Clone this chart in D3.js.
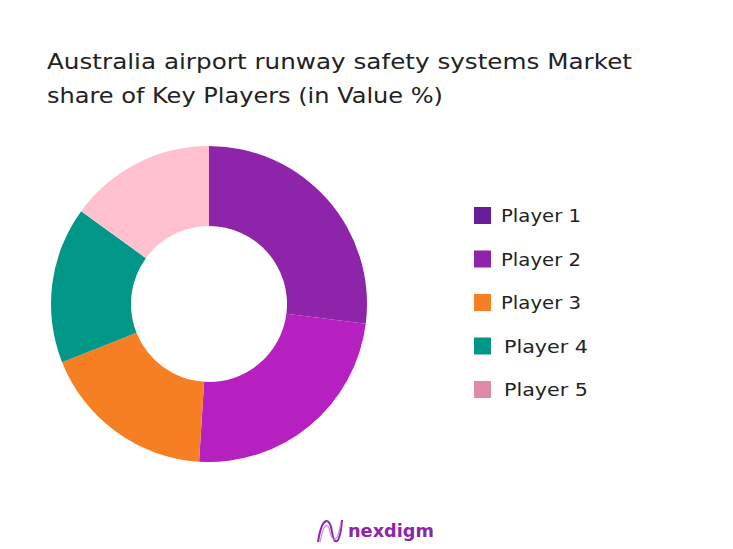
<!DOCTYPE html>
<html><head><meta charset="utf-8">
<script src="https://cdn.jsdelivr.net/npm/d3@7"></script>
<style>body{margin:0;background:#fff;font-family:"DejaVu Sans",sans-serif}</style>
</head><body><div id="chart"></div>
<script>
var players = ["Player 1", "Player 2", "Player 3", "Player 4", "Player 5"];
var shares = [27, 24, 18, 16, 15];
var sliceColors = ["#8e24aa", "#b620c0", "#f57f22", "#009688", "#ffc0cf"];
var legendColors = ["#6a1b9a", "#8e24aa", "#f57f22", "#009688", "#e08aa6"];

var width = 733, height = 549;
var svg = d3.select("#chart").append("svg").attr("width", width).attr("height", height);

svg.append("text").attr("x", 47).attr("y", 69).attr("font-size", 21).attr("fill", "#222")
  .attr("textLength", 585).attr("lengthAdjust", "spacingAndGlyphs")
  .text("Australia airport runway safety systems Market");
svg.append("text").attr("x", 47).attr("y", 103).attr("font-size", 21).attr("fill", "#222")
  .attr("textLength", 396).attr("lengthAdjust", "spacingAndGlyphs")
  .text("share of Key Players (in Value %)");

var pie = d3.pie().sort(null).value(function(d) { return d; });
var arc = d3.arc().innerRadius(78).outerRadius(158);
var g = svg.append("g").attr("transform", "translate(209,304)");
g.selectAll("path").data(pie(shares)).enter().append("path")
  .attr("d", arc).attr("fill", function(d, i) { return sliceColors[i]; });

var leg = svg.append("g").attr("transform", "translate(474,207)");
players.forEach(function(p, i) {
  var row = leg.append("g").attr("transform", "translate(0," + (i * 43.5) + ")");
  row.append("rect").attr("width", 17).attr("height", 17).attr("fill", legendColors[i]);
  row.append("text").attr("x", i > 2 ? 30 : 27).attr("y", 15).attr("font-size", 18).attr("fill", "#222")
    .attr("textLength", i > 2 ? 84 : 80).attr("lengthAdjust", "spacingAndGlyphs").text(p);
});

var logo = svg.append("g").attr("transform", "translate(316,520)");
logo.append("path").attr("d", "M2,22 C6,-4 14,-4 16,12 C18,26 24,26 26,0").attr("fill", "none")
  .attr("stroke", "#8e24aa").attr("stroke-width", 2);
logo.append("path").attr("d", "M4,22 C8,2 12,2 14,12 C17,24 22,22 25,2").attr("fill", "none")
  .attr("stroke", "#c58be0").attr("stroke-width", 1.2);
logo.append("text").attr("x", 32).attr("y", 17).attr("font-size", 18).attr("font-weight", "bold")
  .attr("fill", "#8e24aa").attr("textLength", 86).attr("lengthAdjust", "spacingAndGlyphs").text("nexdigm");
</script></body></html>
